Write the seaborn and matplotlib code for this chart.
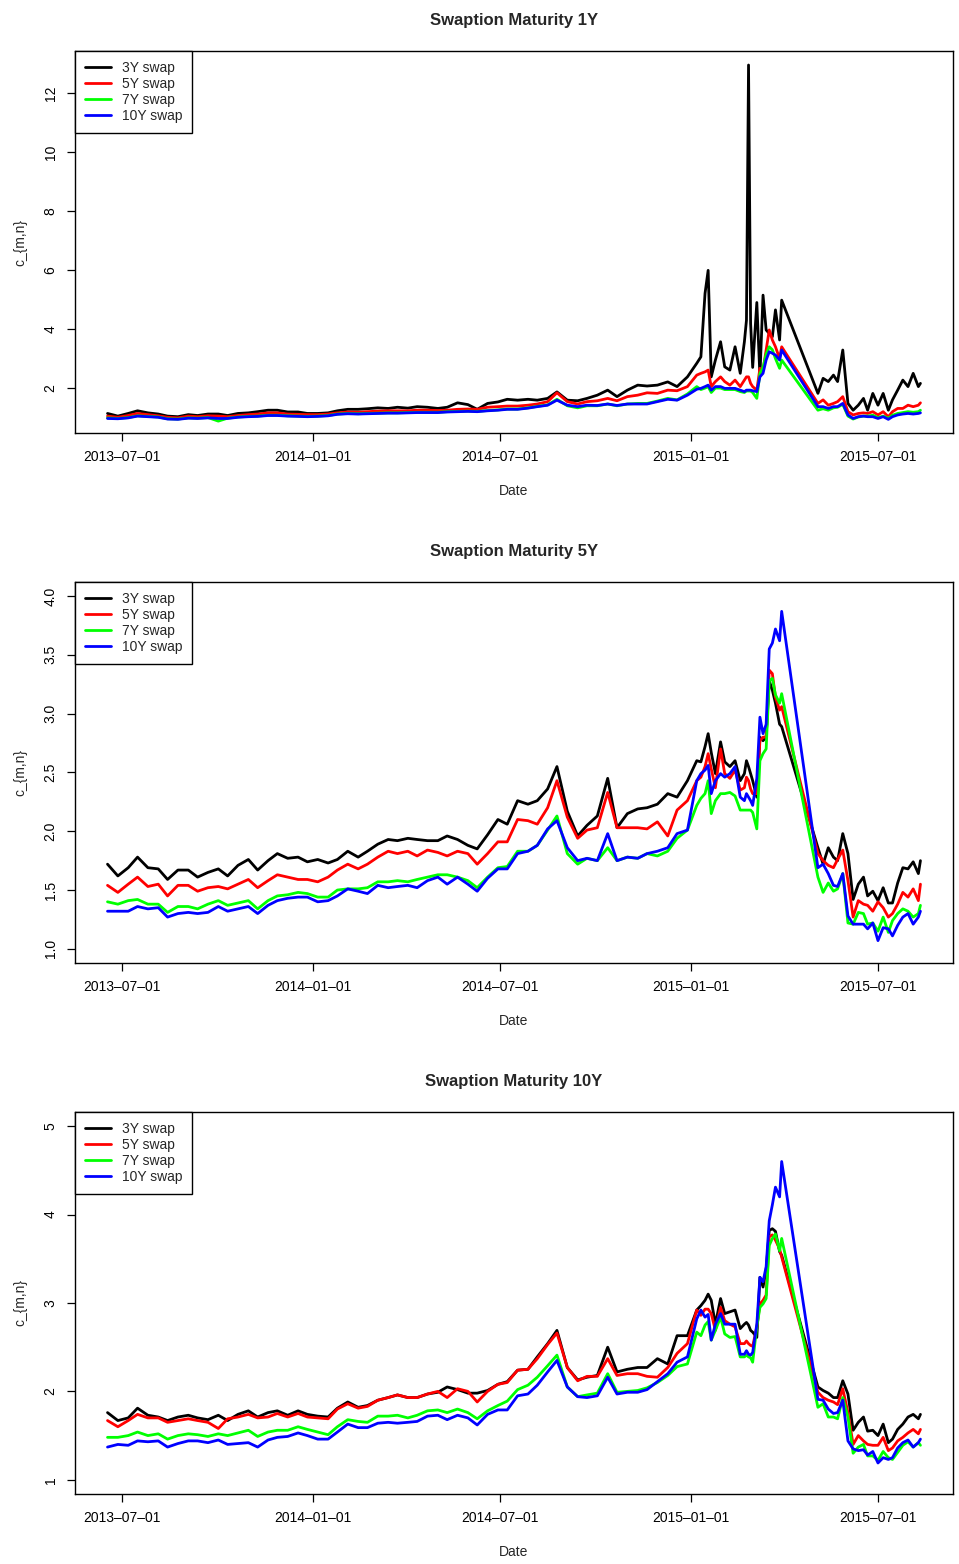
import matplotlib
matplotlib.use("Agg")
import matplotlib.pyplot as plt
import matplotlib.dates as mdates
import pandas as pd
import seaborn as sns

# days after 2013-07-01 for each observation (gap = missing data in spring 2015)
day_offsets = [-14, -4, 6, 15, 25, 35, 44, 54, 64, 73, 83, 93, 102, 112, 122, 131, 141, 150, 160, 170,
               179, 189, 199, 208, 218, 228, 237, 247, 257, 266, 276, 285, 295, 305, 314, 324, 334, 343, 353, 363,
               372, 382, 392, 401, 411, 420, 430, 440, 449, 459, 469, 478, 488, 498, 507, 517, 527, 536, 546, 555,
               559, 563, 566, 569, 573, 578, 582, 587, 592, 597, 601, 603, 605, 607, 609, 613, 616, 619, 622, 625,
               628, 631, 635, 637,
               672, 677, 682, 687, 691, 696, 701, 706, 711, 716, 720, 725, 730, 735, 740, 744, 749, 754, 759, 764,
               769, 771]

swaps = ["3Y swap", "5Y swap", "7Y swap", "10Y swap"]
swap_colors = ["black", "red", "#00ff00", "blue"]

# --- Swaption maturity 1Y ---
m1_3y = [1.14, 1.05, 1.14, 1.23, 1.16, 1.12, 1.05, 1.03, 1.10, 1.07, 1.12, 1.12, 1.07, 1.14, 1.16, 1.20, 1.25, 1.25, 1.19, 1.19,
         1.14, 1.14, 1.16, 1.23, 1.28, 1.28, 1.30, 1.33, 1.31, 1.35, 1.32, 1.37, 1.35, 1.31, 1.35, 1.50, 1.44, 1.28, 1.48, 1.53,
         1.62, 1.59, 1.62, 1.59, 1.65, 1.87, 1.59, 1.57, 1.65, 1.76, 1.93, 1.71, 1.93, 2.10, 2.07, 2.10, 2.21, 2.05, 2.38, 2.84,
         3.06, 5.21, 5.99, 2.38, 2.95, 3.57, 2.72, 2.61, 3.40, 2.50, 3.57, 4.30, 12.95, 4.19, 2.70, 4.90, 2.40, 5.15, 3.97, 3.85,
         3.74, 4.65, 3.63, 4.98,
         1.82, 2.33, 2.22, 2.44, 2.22, 3.29, 1.48, 1.25, 1.42, 1.65, 1.25, 1.82, 1.42, 1.82, 1.25, 1.60, 1.93, 2.27, 2.05, 2.50,
         2.05, 2.16]
m1_5y = [1.05, 1.01, 1.07, 1.14, 1.10, 1.06, 1.01, 0.99, 1.05, 1.03, 1.06, 1.05, 1.03, 1.07, 1.10, 1.12, 1.16, 1.16, 1.12, 1.11,
         1.10, 1.10, 1.12, 1.16, 1.19, 1.18, 1.20, 1.22, 1.23, 1.23, 1.23, 1.25, 1.25, 1.24, 1.25, 1.28, 1.29, 1.28, 1.35, 1.37,
         1.39, 1.39, 1.42, 1.46, 1.54, 1.84, 1.54, 1.46, 1.54, 1.57, 1.65, 1.57, 1.71, 1.76, 1.84, 1.82, 1.93, 1.91, 2.05, 2.44,
         2.50, 2.55, 2.61, 2.05, 2.22, 2.38, 2.22, 2.10, 2.27, 2.05, 2.27, 2.38, 2.38, 2.16, 2.05, 1.93, 2.67, 2.61, 3.29, 3.97,
         3.63, 3.40, 3.00, 3.40,
         1.48, 1.60, 1.42, 1.48, 1.54, 1.71, 1.20, 1.09, 1.14, 1.16, 1.14, 1.20, 1.09, 1.20, 1.03, 1.20, 1.31, 1.31, 1.42, 1.37,
         1.42, 1.50]
m1_7y = [0.99, 0.97, 1.00, 1.06, 1.04, 1.02, 0.96, 0.95, 0.99, 0.98, 1.00, 0.88, 0.98, 1.02, 1.04, 1.05, 1.08, 1.08, 1.06, 1.05,
         1.04, 1.05, 1.07, 1.12, 1.14, 1.13, 1.14, 1.15, 1.16, 1.16, 1.17, 1.18, 1.18, 1.18, 1.20, 1.21, 1.22, 1.21, 1.24, 1.26,
         1.29, 1.29, 1.33, 1.38, 1.43, 1.62, 1.40, 1.33, 1.40, 1.40, 1.46, 1.40, 1.46, 1.48, 1.48, 1.56, 1.65, 1.60, 1.80, 2.05,
         1.95, 2.00, 2.05, 1.85, 2.00, 2.00, 1.95, 1.95, 1.95, 1.88, 1.85, 1.90, 1.90, 1.90, 1.85, 1.65, 2.50, 2.70, 3.15, 3.40,
         3.30, 3.00, 2.67, 2.95,
         1.25, 1.30, 1.25, 1.33, 1.35, 1.45, 1.05, 0.95, 1.02, 1.05, 1.05, 1.08, 1.00, 1.05, 0.98, 1.08, 1.14, 1.17, 1.20, 1.18,
         1.20, 1.25]
m1_10y = [0.97, 0.96, 0.99, 1.05, 1.03, 1.01, 0.95, 0.94, 0.98, 0.97, 0.99, 0.97, 0.97, 1.01, 1.03, 1.04, 1.07, 1.07, 1.05, 1.04,
          1.03, 1.04, 1.06, 1.11, 1.13, 1.12, 1.13, 1.14, 1.15, 1.15, 1.16, 1.17, 1.17, 1.17, 1.19, 1.20, 1.21, 1.20, 1.23, 1.25,
          1.28, 1.28, 1.32, 1.37, 1.42, 1.59, 1.42, 1.37, 1.42, 1.41, 1.46, 1.41, 1.46, 1.46, 1.46, 1.54, 1.62, 1.59, 1.76, 1.96,
          1.99, 2.05, 2.10, 1.93, 2.05, 2.05, 1.99, 1.99, 1.99, 1.93, 1.88, 1.93, 1.93, 1.93, 1.91, 1.88, 2.38, 2.50, 2.95, 3.23,
          3.18, 3.12, 2.95, 3.29,
          1.37, 1.37, 1.31, 1.37, 1.37, 1.48, 1.09, 0.97, 1.03, 1.05, 1.03, 1.03, 0.97, 1.03, 0.94, 1.03, 1.09, 1.12, 1.14, 1.12,
          1.14, 1.16]

# --- Swaption maturity 5Y ---
m5_3y = [1.72, 1.62, 1.69, 1.78, 1.69, 1.68, 1.59, 1.67, 1.67, 1.61, 1.65, 1.68, 1.62, 1.71, 1.76, 1.67, 1.75, 1.81, 1.77, 1.78,
         1.74, 1.76, 1.73, 1.76, 1.83, 1.78, 1.83, 1.89, 1.93, 1.92, 1.94, 1.93, 1.92, 1.92, 1.96, 1.93, 1.88, 1.85, 1.97, 2.10,
         2.06, 2.26, 2.23, 2.26, 2.36, 2.55, 2.17, 1.96, 2.05, 2.13, 2.45, 2.03, 2.15, 2.19, 2.20, 2.23, 2.32, 2.29, 2.43, 2.60,
         2.59, 2.72, 2.83, 2.67, 2.49, 2.76, 2.59, 2.55, 2.60, 2.43, 2.49, 2.60, 2.55, 2.49, 2.43, 2.29, 2.80, 2.77, 2.80, 3.28,
         3.20, 3.09, 2.91, 2.89,
         1.86, 1.72, 1.86, 1.78, 1.75, 1.98, 1.81, 1.42, 1.55, 1.61, 1.45, 1.49, 1.41, 1.52, 1.39, 1.39, 1.56, 1.69, 1.68, 1.74,
         1.64, 1.75]
m5_5y = [1.54, 1.48, 1.55, 1.61, 1.53, 1.55, 1.45, 1.54, 1.54, 1.49, 1.52, 1.53, 1.51, 1.55, 1.59, 1.52, 1.58, 1.63, 1.61, 1.59,
         1.59, 1.57, 1.61, 1.67, 1.72, 1.68, 1.72, 1.78, 1.83, 1.81, 1.83, 1.79, 1.84, 1.82, 1.79, 1.83, 1.81, 1.72, 1.81, 1.91,
         1.91, 2.10, 2.09, 2.06, 2.20, 2.43, 2.12, 1.94, 2.01, 2.03, 2.33, 2.03, 2.03, 2.03, 2.02, 2.08, 1.96, 2.18, 2.26, 2.43,
         2.46, 2.55, 2.66, 2.53, 2.37, 2.70, 2.49, 2.45, 2.52, 2.35, 2.37, 2.46, 2.43, 2.36, 2.32, 2.32, 2.77, 2.80, 2.80, 3.37,
         3.34, 3.14, 3.03, 3.06,
         1.81, 1.75, 1.71, 1.69, 1.76, 1.84, 1.58, 1.27, 1.41, 1.38, 1.37, 1.32, 1.40, 1.35, 1.27, 1.30, 1.38, 1.48, 1.44, 1.51,
         1.41, 1.55]
m5_7y = [1.40, 1.38, 1.41, 1.42, 1.38, 1.38, 1.31, 1.36, 1.36, 1.34, 1.38, 1.41, 1.37, 1.39, 1.41, 1.34, 1.41, 1.45, 1.46, 1.48,
         1.47, 1.44, 1.44, 1.50, 1.51, 1.51, 1.52, 1.57, 1.57, 1.58, 1.57, 1.59, 1.61, 1.63, 1.63, 1.61, 1.58, 1.52, 1.61, 1.69,
         1.70, 1.83, 1.83, 1.88, 2.01, 2.13, 1.81, 1.72, 1.77, 1.75, 1.86, 1.75, 1.78, 1.77, 1.81, 1.79, 1.83, 1.94, 2.01, 2.22,
         2.28, 2.32, 2.43, 2.15, 2.26, 2.32, 2.32, 2.33, 2.30, 2.18, 2.18, 2.18, 2.18, 2.18, 2.16, 2.02, 2.60, 2.66, 2.70, 3.28,
         3.30, 3.16, 3.09, 3.17,
         1.61, 1.48, 1.56, 1.49, 1.51, 1.64, 1.22, 1.21, 1.31, 1.30, 1.21, 1.22, 1.15, 1.27, 1.14, 1.24, 1.30, 1.34, 1.32, 1.27,
         1.30, 1.37]
m5_10y = [1.32, 1.32, 1.32, 1.36, 1.34, 1.35, 1.27, 1.30, 1.31, 1.30, 1.31, 1.36, 1.32, 1.34, 1.36, 1.30, 1.37, 1.41, 1.43, 1.44,
          1.44, 1.40, 1.41, 1.45, 1.51, 1.49, 1.47, 1.54, 1.52, 1.53, 1.54, 1.52, 1.58, 1.61, 1.55, 1.61, 1.55, 1.49, 1.60, 1.68,
          1.68, 1.81, 1.83, 1.88, 2.02, 2.09, 1.86, 1.75, 1.77, 1.75, 1.98, 1.75, 1.78, 1.77, 1.81, 1.83, 1.86, 1.98, 2.01, 2.43,
          2.49, 2.52, 2.56, 2.32, 2.43, 2.49, 2.46, 2.49, 2.55, 2.29, 2.26, 2.32, 2.29, 2.26, 2.22, 2.45, 2.97, 2.83, 2.91, 3.55,
          3.60, 3.72, 3.62, 3.87,
          1.69, 1.72, 1.64, 1.54, 1.53, 1.64, 1.28, 1.21, 1.21, 1.21, 1.17, 1.22, 1.07, 1.18, 1.17, 1.11, 1.20, 1.27, 1.30, 1.21,
          1.27, 1.32]

# --- Swaption maturity 10Y ---
m10_3y = [1.76, 1.67, 1.70, 1.81, 1.73, 1.71, 1.67, 1.71, 1.73, 1.70, 1.68, 1.73, 1.67, 1.74, 1.78, 1.71, 1.76, 1.78, 1.73, 1.78,
          1.74, 1.72, 1.71, 1.81, 1.88, 1.82, 1.84, 1.90, 1.93, 1.96, 1.93, 1.93, 1.97, 1.99, 2.05, 2.02, 1.98, 1.98, 2.01, 2.08,
          2.11, 2.24, 2.25, 2.39, 2.54, 2.69, 2.27, 2.13, 2.16, 2.18, 2.50, 2.22, 2.25, 2.27, 2.27, 2.37, 2.31, 2.63, 2.63, 2.92,
          2.97, 3.03, 3.10, 3.03, 2.76, 3.05, 2.88, 2.90, 2.92, 2.71, 2.76, 2.78, 2.75, 2.69, 2.67, 2.61, 3.29, 3.18, 3.37, 3.82,
          3.84, 3.81, 3.58, 3.54,
          2.05, 2.01, 1.98, 1.93, 1.93, 2.12, 1.97, 1.56, 1.65, 1.71, 1.55, 1.56, 1.50, 1.63, 1.42, 1.46, 1.57, 1.63, 1.71, 1.74,
          1.69, 1.74]
m10_5y = [1.67, 1.60, 1.67, 1.74, 1.70, 1.70, 1.65, 1.67, 1.69, 1.67, 1.65, 1.58, 1.69, 1.71, 1.74, 1.70, 1.71, 1.75, 1.71, 1.75,
          1.71, 1.70, 1.69, 1.80, 1.86, 1.81, 1.83, 1.90, 1.93, 1.96, 1.93, 1.93, 1.97, 2.00, 1.93, 2.03, 2.00, 1.88, 2.00, 2.08,
          2.10, 2.24, 2.25, 2.37, 2.53, 2.66, 2.27, 2.12, 2.17, 2.17, 2.37, 2.18, 2.20, 2.20, 2.17, 2.16, 2.27, 2.43, 2.54, 2.92,
          2.86, 2.93, 2.93, 2.88, 2.69, 2.95, 2.80, 2.76, 2.73, 2.54, 2.54, 2.57, 2.54, 2.52, 2.51, 2.73, 2.99, 3.03, 3.09, 3.75,
          3.77, 3.71, 3.61, 3.52,
          1.99, 1.93, 1.90, 1.88, 1.85, 2.03, 1.76, 1.40, 1.50, 1.44, 1.40, 1.39, 1.39, 1.48, 1.33, 1.36, 1.44, 1.48, 1.53, 1.57,
          1.52, 1.57]
m10_7y = [1.48, 1.48, 1.50, 1.54, 1.50, 1.52, 1.46, 1.50, 1.52, 1.51, 1.49, 1.52, 1.50, 1.53, 1.56, 1.49, 1.54, 1.56, 1.56, 1.60,
          1.57, 1.54, 1.51, 1.60, 1.68, 1.66, 1.65, 1.72, 1.72, 1.73, 1.70, 1.73, 1.78, 1.79, 1.76, 1.80, 1.76, 1.69, 1.78, 1.84,
          1.89, 2.02, 2.07, 2.16, 2.29, 2.41, 2.05, 1.94, 1.96, 1.98, 2.20, 1.99, 2.00, 2.01, 2.04, 2.10, 2.18, 2.28, 2.31, 2.67,
          2.63, 2.75, 2.79, 2.58, 2.69, 2.84, 2.65, 2.61, 2.62, 2.39, 2.39, 2.41, 2.39, 2.38, 2.33, 2.73, 2.95, 2.99, 3.05, 3.65,
          3.73, 3.78, 3.59, 3.73,
          1.82, 1.86, 1.71, 1.71, 1.69, 1.93, 1.71, 1.30, 1.37, 1.40, 1.27, 1.27, 1.22, 1.32, 1.25, 1.23, 1.31, 1.39, 1.43, 1.37,
          1.42, 1.39]
m10_10y = [1.37, 1.40, 1.39, 1.44, 1.43, 1.44, 1.37, 1.41, 1.44, 1.44, 1.42, 1.45, 1.40, 1.41, 1.42, 1.37, 1.45, 1.48, 1.49, 1.53,
           1.50, 1.46, 1.46, 1.54, 1.63, 1.59, 1.59, 1.64, 1.65, 1.64, 1.65, 1.66, 1.72, 1.73, 1.68, 1.73, 1.70, 1.62, 1.74, 1.79,
           1.79, 1.95, 1.97, 2.07, 2.22, 2.35, 2.05, 1.94, 1.93, 1.95, 2.16, 1.97, 1.99, 1.99, 2.02, 2.11, 2.20, 2.33, 2.39, 2.82,
           2.92, 2.84, 2.87, 2.58, 2.76, 2.88, 2.76, 2.76, 2.76, 2.42, 2.42, 2.46, 2.42, 2.41, 2.44, 2.76, 3.29, 3.24, 3.41, 3.93,
           4.11, 4.31, 4.20, 4.60,
           1.91, 1.90, 1.80, 1.75, 1.76, 1.90, 1.44, 1.35, 1.33, 1.34, 1.28, 1.32, 1.19, 1.25, 1.23, 1.25, 1.36, 1.42, 1.45, 1.37,
           1.42, 1.46]

panels = [
    ("Swaption Maturity 1Y", [m1_3y, m1_5y, m1_7y, m1_10y], [2, 4, 6, 8, 10, 12], (0.475, 13.42)),
    ("Swaption Maturity 5Y", [m5_3y, m5_5y, m5_7y, m5_10y], [1.0, 1.5, 2.0, 2.5, 3.0, 3.5, 4.0], (0.88, 4.12)),
    ("Swaption Maturity 10Y", [m10_3y, m10_5y, m10_7y, m10_10y], [1, 2, 3, 4, 5], (0.84, 5.16)),
]
tick_dates = ["2013-07-01", "2014-01-01", "2014-07-01", "2015-01-01", "2015-07-01"]

sns.set_style("ticks")
plt.rcParams["font.family"] = ["Liberation Sans", "DejaVu Sans"]
plt.rcParams["axes.edgecolor"] = "black"
plt.rcParams["xtick.color"] = "black"
plt.rcParams["ytick.color"] = "black"

dates = pd.Timestamp("2013-07-01") + pd.to_timedelta(day_offsets, unit="D")

fig = plt.figure(figsize=(9.59, 15.64), dpi=100)
# axes boxes in figure fractions (left, bottom, width, height)
boxes = [(0.0782, 0.7231, 0.9155, 0.2442),
         (0.0782, 0.3843, 0.9155, 0.2436),
         (0.0782, 0.0448, 0.9155, 0.2442)]

for (title, series, yticks, ylim), box in zip(panels, boxes):
    ax = fig.add_axes(box)
    frames = []
    for name, vals in zip(swaps, series):
        if len(vals) != len(day_offsets):
            raise ValueError("%s %s: %d values" % (title, name, len(vals)))
        frames.append(pd.DataFrame({"Date": dates, "value": vals, "swap": name}))
    df = pd.concat(frames, ignore_index=True)

    sns.lineplot(data=df, x="Date", y="value", hue="swap", hue_order=swaps,
                 palette=dict(zip(swaps, swap_colors)), linewidth=2,
                 estimator=None, sort=False, ax=ax)

    ax.margins(x=0.04)
    ax.set_ylim(*ylim)
    ax.set_yticks(yticks)
    if isinstance(yticks[0], float):
        ax.set_yticklabels(["%.1f" % t for t in yticks])
    ax.set_xticks([mdates.date2num(pd.Timestamp(d)) for d in tick_dates])
    ax.set_xticklabels([d.replace("-", "\u2013") for d in tick_dates])
    for lab in ax.get_yticklabels():
        lab.set_rotation(90)
        lab.set_va("center")
    ax.tick_params(axis="both", labelsize=10, length=5.5, width=0.9, pad=7)

    ax.set_title(title, fontsize=12, fontweight="bold", pad=19)
    ax.set_xlabel("Date", fontsize=10, labelpad=14)
    ax.set_ylabel("c_{m,n}", fontsize=10, labelpad=12)
    for sp in ax.spines.values():
        sp.set_linewidth(1.0)
        sp.set_color("black")

    leg = ax.legend(loc="upper left", bbox_to_anchor=(0, 1), borderaxespad=0,
                    fancybox=False, framealpha=1, edgecolor="black", fontsize=10,
                    handlelength=1.9, handletextpad=0.8, labelspacing=0.15,
                    borderpad=0.7, title=None)
    leg.get_frame().set_linewidth(1.0)
    for line in leg.get_lines():
        line.set_linewidth(2)

fig.savefig("out.png", dpi=100)
